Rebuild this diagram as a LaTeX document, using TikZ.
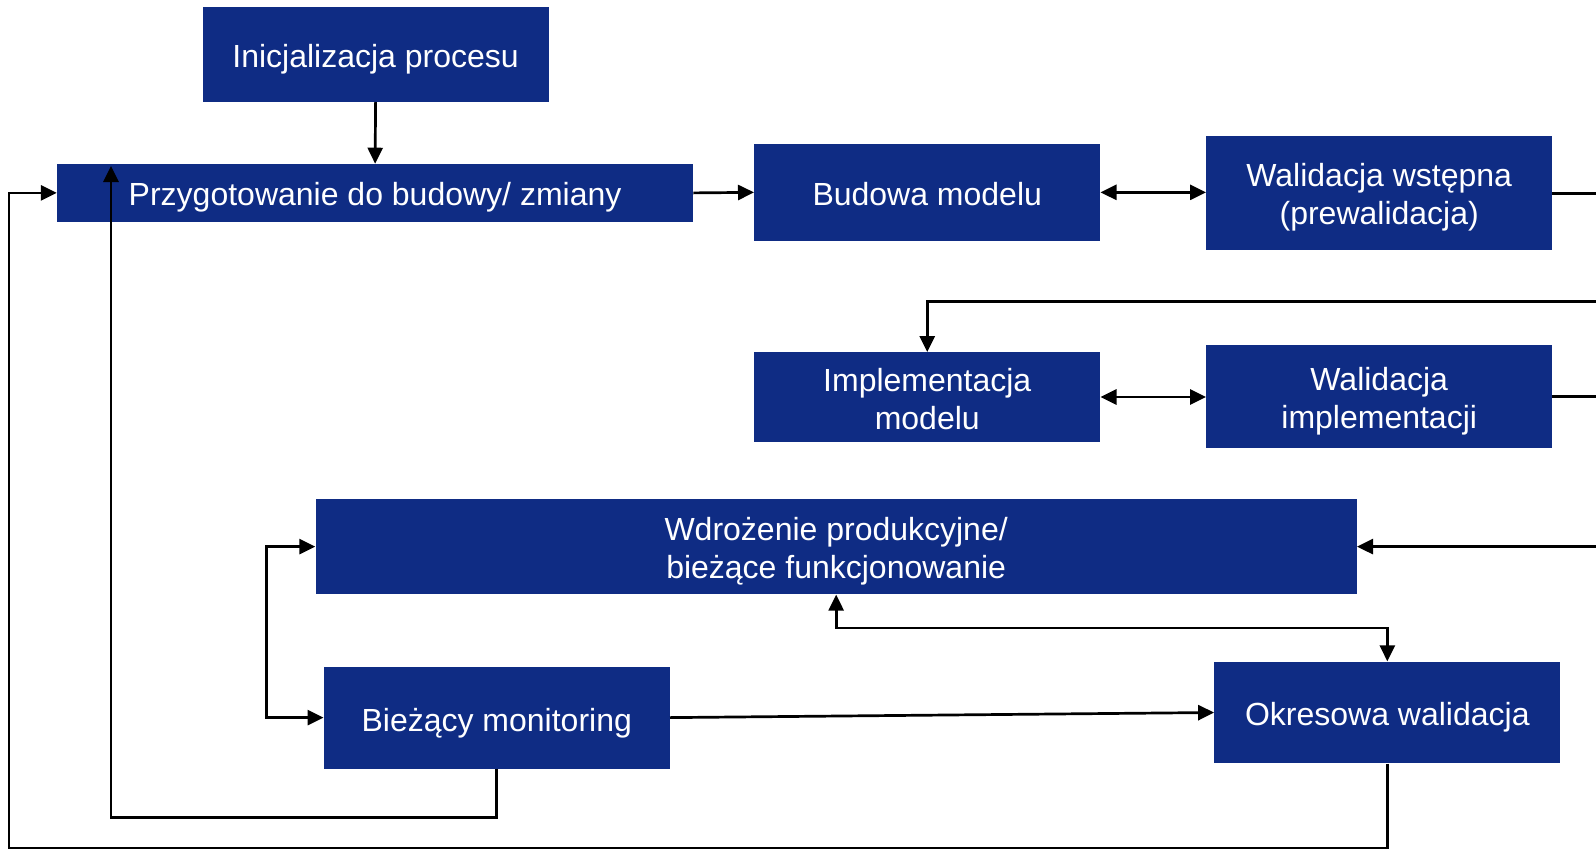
\documentclass[tikz,border=0pt]{standalone}
\usepackage{fontspec}
\setmainfont{Liberation Sans}
\usetikzlibrary{arrows.meta}
\definecolor{boxblue}{RGB}{15,44,132}
\begin{document}
\begin{tikzpicture}[x=1pt,y=-1pt,
  box/.style={fill=boxblue,inner sep=0pt},
  lbl/.style={text=white,inner sep=0pt,align=center,
    font=\fontsize{32}{38}\selectfont},
  conn/.style={line width=2.7pt,draw=black},
  tip/.style={-{Triangle[length=16pt,width=15pt]}},
  tips/.style={{Triangle[length=16pt,width=15pt]}-{Triangle[length=16pt,width=15pt]}}]
\useasboundingbox (0,0) rectangle (1596,849);

% process steps (box with its caption set as a centred label)
\node[box,minimum width=346pt,minimum height=94.7pt,
  label={[lbl,yshift=-5pt]center:Inicjalizacja procesu}] (ini) at (375.6,54.45) {};
\node[box,minimum width=636.2pt,minimum height=58pt,
  label={[lbl,yshift=-4pt]center:Przygotowanie do budowy/ zmiany}] (prz) at (375.1,192.9) {};
\node[box,minimum width=346.1pt,minimum height=97.7pt,
  label={[lbl,yshift=-2pt]center:Budowa modelu}] (bud) at (927.25,192.35) {};
\node[box,minimum width=346pt,minimum height=114pt,
  label={[lbl,yshift=-3.5pt]center:{Walidacja wstępna\\(prewalidacja)}}] (wws) at (1379.2,193.4) {};
\node[box,minimum width=346.1pt,minimum height=89.6pt,
  label={[lbl,yshift=-2.5pt]center:{Implementacja\\modelu}}] (imp) at (927.25,397) {};
\node[box,minimum width=346pt,minimum height=102.9pt,
  label={[lbl,yshift=-5pt]center:{Walidacja\\implementacji}}] (wim) at (1379.2,396.45) {};
\node[box,minimum width=1041.3pt,minimum height=95.6pt,
  label={[lbl,yshift=-5pt]center:{Wdrożenie produkcyjne/\\bieżące funkcjonowanie}}] (wdr) at (836.15,546.6) {};
\node[box,minimum width=346.1pt,minimum height=101.8pt,
  label={[lbl,yshift=-6pt]center:Bieżący monitoring}] (bm) at (496.75,717.6) {};
\node[box,minimum width=346.1pt,minimum height=101.8pt,
  label={[lbl,yshift=-5pt]center:Okresowa walidacja}] (ok) at (1387.35,712.5) {};

% helper points for routing
\coordinate (redge) at (1596,0);
\coordinate (r2) at (1596,301.7);
\coordinate (mid) at (0,628);
\coordinate (lx) at (266.7,0);
\coordinate (loopb) at (0,817.4);
\coordinate (ptip) at (111,166);
\coordinate (cb) at (9,848);

% connectors
\draw[conn,tip] (ini.south) -- (prz.north);
\draw[conn,tip] (prz.east) -- (bud.west);
\draw[conn,tips] (bud.east) -- (bud.east -| wws.west);
\draw[conn] (wws.east) -- (wws.east -| redge);
\draw[conn,tip] (r2) -| (imp.north);
\draw[conn,tips] (imp.east) -- (imp.east -| wim.west);
\draw[conn] (wim.east) -- (wim.east -| redge);
\draw[conn,tip] (wdr.east -| redge) -- (wdr.east);
\draw[conn,tips] (wdr.south) -- (wdr.south |- mid) -| (ok.north);
\draw[conn,tips] (wdr.west) -- (wdr.west -| lx) |- (bm.west);
\draw[conn,tip] (bm.east) -- (ok.west);
\draw[conn,tip] (bm.south) -- (bm.south |- loopb) -| (ptip);
\draw[conn,tip] (ok.south) |- (cb) |- (prz.west);
\end{tikzpicture}
\end{document}
